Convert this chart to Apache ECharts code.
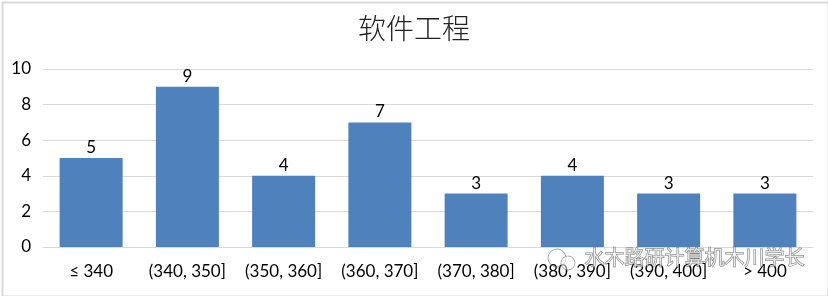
<!DOCTYPE html>
<html><head><meta charset="utf-8">
<script src="https://cdn.jsdelivr.net/npm/echarts@6/dist/echarts.min.js"></script>
<style>html,body{margin:0;padding:0;background:#fff}#c{width:828px;height:296px}</style>
</head><body><div id="c"></div>
<script>
const title = '软件工程';
const categories = ['≤ 340', '(340, 350]', '(350, 360]', '(360, 370]', '(370, 380]', '(380, 390]', '(390, 400]', '> 400'];
const values = [5, 9, 4, 7, 3, 4, 3, 3];
const yTicks = { min: 0, max: 10, interval: 2 };
const watermark = '水木路研计算机木川学长';

const chart = echarts.init(document.getElementById('c'), null, { renderer: 'canvas' });
chart.setOption({
  backgroundColor: '#fff',
  animation: false,
  title: {
    text: title, left: 'center', top: 9,
    textStyle: { fontFamily: 'Noto Sans CJK SC', fontWeight: 300, fontSize: 28, color: '#222' }
  },
  grid: { left: 43, right: 15, top: 69, bottom: 49, containLabel: false },
  xAxis: {
    type: 'category', data: categories,
    axisLine: { lineStyle: { color: '#d9d9d9' } },
    axisTick: { show: false },
    axisLabel: { color: '#000', fontSize: 17, fontFamily: 'Lato', margin: 16, interval: 0 }
  },
  yAxis: {
    type: 'value', min: yTicks.min, max: yTicks.max, interval: yTicks.interval,
    axisLine: { show: false }, axisTick: { show: false },
    axisLabel: { color: '#000', fontSize: 17, fontFamily: 'Lato', margin: 12 },
    splitLine: { lineStyle: { color: '#d9d9d9' } }
  },
  series: [{
    type: 'bar', data: values, barWidth: 63,
    itemStyle: { color: '#4f81bd' },
    label: { show: true, position: 'top', distance: 2, color: '#000', fontSize: 17, fontFamily: 'Lato' }
  }],
  graphic: [
    { type: 'rect', left: 0, top: 0, shape: { width: 826, height: 294 }, style: { fill: 'none', stroke: '#d9d9d9', lineWidth: 2 }, silent: true },
    { type: 'text', left: 584, top: 247, style: { text: watermark, fontSize: 20, fontFamily: 'Noto Sans CJK SC', fill: 'rgba(255,255,255,0.6)', stroke: 'rgba(90,90,90,0.75)', lineWidth: 1 }, z: 100 },
    { type: 'circle', shape: { cx: 557, cy: 258, r: 9 }, style: { fill: 'none', stroke: 'rgba(120,120,120,0.6)', lineWidth: 1 }, z: 100 },
    { type: 'circle', shape: { cx: 568, cy: 263, r: 7 }, style: { fill: 'rgba(255,255,255,0.5)', stroke: 'rgba(120,120,120,0.6)', lineWidth: 1 }, z: 100 }
  ]
});
</script></body></html>
